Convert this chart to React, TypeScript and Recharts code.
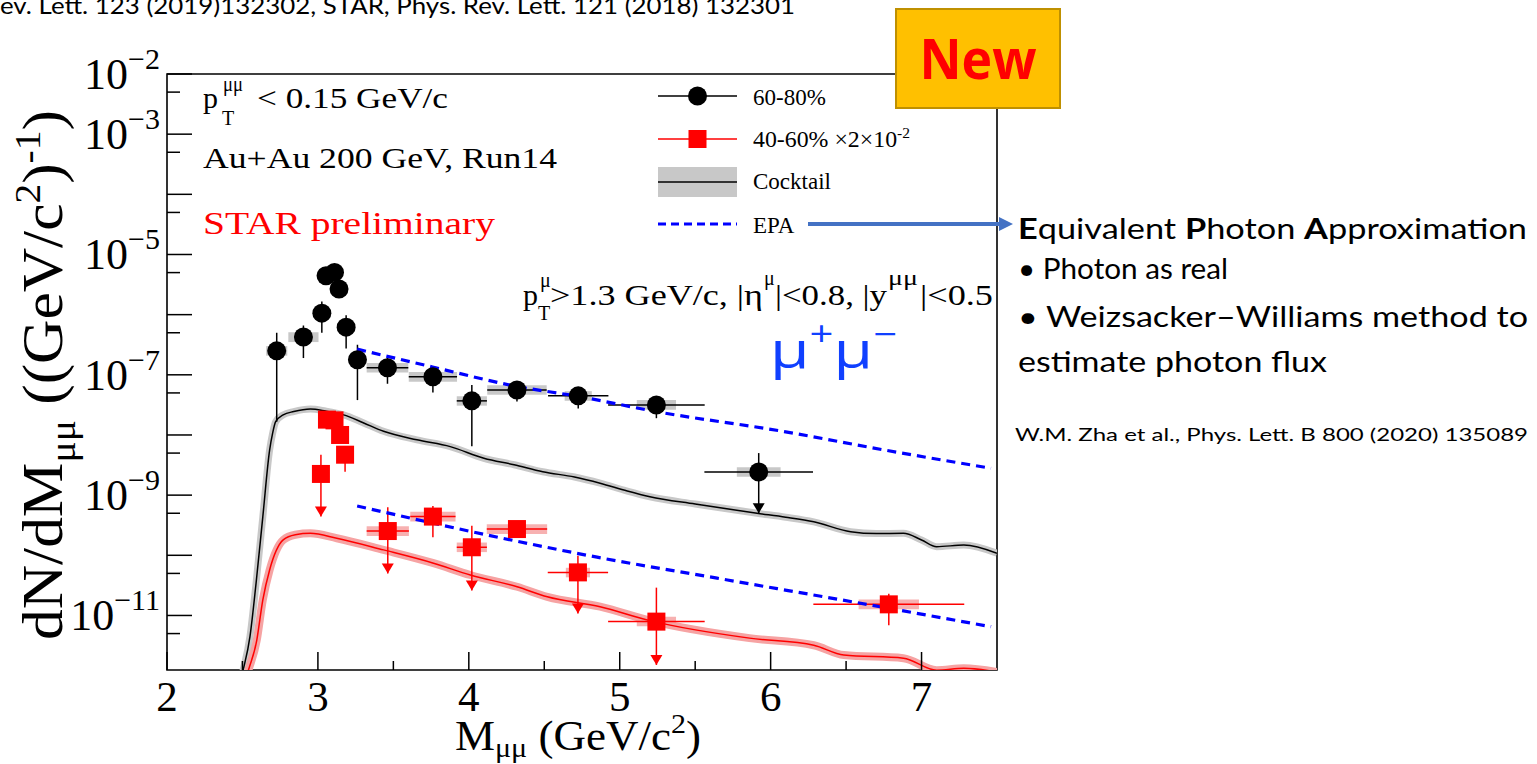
import React from "react";
import {
  ComposedChart,
  XAxis,
  YAxis,
  Line,
  Scatter,
  ErrorBar,
  ReferenceArea,
} from "recharts";

const W = 1537;
const H = 764;
const SERIF = '"Liberation Serif", "Times New Roman", Times, serif';
const SANS = 'Lato, "Open Sans", "Noto Sans", sans-serif';

const massRange: [number, number] = [2, 7.5];
const yieldRange: [number, number] = [1.24e-12, 1e-2];

const massTicks = [2, 2.5, 3, 3.5, 4, 4.5, 5, 5.5, 6, 6.5, 7];
const yieldTicks = [
  1e-2, 5e-3, 1e-3, 5e-4, 1e-4, 5e-5, 1e-5, 5e-6, 1e-6, 5e-7, 1e-7, 5e-8,
  1e-8, 5e-9, 1e-9, 5e-10, 1e-10, 5e-11, 1e-11, 5e-12,
];
const labelledExponents = [-2, -3, -5, -7, -9, -11];

// 60-80% data: m, y, stat error ends (lo/hi), half bin width dm,
// systematic box (half width sdm, slo/shi)
const cent6080 = [
  { m: 2.727, y: 2.5e-7, lo: 1.66e-8, hi: 5.0e-7, dm: 0, sdm: 0.07, slo: 2.08e-7, shi: 3.0e-7 },
  { m: 2.904, y: 4.24e-7, lo: 1.9e-7, hi: 6.6e-7, dm: 0, sdm: 0.1, slo: 3.5e-7, shi: 5.1e-7 },
  { m: 3.026, y: 1.06e-6, lo: 5.0e-7, hi: 1.66e-6, dm: 0, sdm: 0.04, slo: 8.8e-7, shi: 1.27e-6 },
  { m: 3.054, y: 4.44e-6, lo: 3.9e-6, hi: 5.0e-6, dm: 0, sdm: 0.03, slo: 3.7e-6, shi: 5.3e-6 },
  { m: 3.11, y: 5.04e-6, lo: 4.5e-6, hi: 5.6e-6, dm: 0, sdm: 0.03, slo: 4.2e-6, shi: 6.0e-6 },
  { m: 3.14, y: 2.67e-6, lo: 2.35e-6, hi: 3.0e-6, dm: 0, sdm: 0.03, slo: 2.2e-6, shi: 3.2e-6 },
  { m: 3.187, y: 6.2e-7, lo: 2.75e-7, hi: 9.8e-7, dm: 0, sdm: 0.04, slo: 5.2e-7, shi: 7.4e-7 },
  { m: 3.262, y: 1.78e-7, lo: 3.8e-8, hi: 3.16e-7, dm: 0, sdm: 0.05, slo: 1.48e-7, shi: 2.13e-7 },
  { m: 3.461, y: 1.31e-7, lo: 7.1e-8, hi: 1.9e-7, dm: 0.138, sdm: 0.138, slo: 1.09e-7, shi: 1.57e-7 },
  { m: 3.762, y: 9.3e-8, lo: 5.1e-8, hi: 1.38e-7, dm: 0.16, sdm: 0.16, slo: 7.7e-8, shi: 1.11e-7 },
  { m: 4.02, y: 3.69e-8, lo: 6.5e-9, hi: 6.8e-8, dm: 0.1, sdm: 0.1, slo: 3.07e-8, shi: 4.4e-8 },
  { m: 4.319, y: 5.6e-8, lo: 3.6e-8, hi: 7.2e-8, dm: 0.197, sdm: 0.197, slo: 4.66e-8, shi: 6.7e-8 },
  { m: 4.725, y: 4.47e-8, lo: 2.75e-8, hi: 5.6e-8, dm: 0.2, sdm: 0.09, slo: 3.7e-8, shi: 5.35e-8 },
  { m: 5.243, y: 3.16e-8, lo: 1.9e-8, hi: 4.2e-8, dm: 0.32, sdm: 0.13, slo: 2.63e-8, shi: 3.8e-8 },
  { m: 5.921, y: 2.43e-9, lo: 5.0e-10, hi: 5.0e-9, dm: 0.36, sdm: 0.145, slo: 2.02e-9, shi: 2.9e-9, limit: true },
];

// 40-60% data, scaled by 2x10^-2
const cent4060 = [
  { m: 3.02, y: 2.25e-9, lo: 4.4e-10, hi: 4.7e-9, dm: 0, sdm: 0.03, slo: 1.87e-9, shi: 2.7e-9, limit: true },
  { m: 3.06, y: 1.8e-8, lo: 1.6e-8, hi: 2.0e-8, dm: 0, sdm: 0.03, slo: 1.5e-8, shi: 2.16e-8 },
  { m: 3.11, y: 1.75e-8, lo: 1.55e-8, hi: 1.95e-8, dm: 0, sdm: 0.03, slo: 1.46e-8, shi: 2.1e-8 },
  { m: 3.147, y: 1.0e-8, lo: 8.8e-9, hi: 1.13e-8, dm: 0, sdm: 0.03, slo: 8.3e-9, shi: 1.2e-8 },
  { m: 3.18, y: 4.7e-9, lo: 2.45e-9, hi: 5.5e-9, dm: 0, sdm: 0.03, slo: 3.9e-9, shi: 5.6e-9 },
  { m: 3.463, y: 2.53e-10, lo: 5.0e-11, hi: 6.3e-10, dm: 0.14, sdm: 0.14, slo: 2.1e-10, shi: 3.05e-10, limit: true },
  { m: 3.762, y: 4.4e-10, lo: 2.0e-10, hi: 6.6e-10, dm: 0.15, sdm: 0.15, slo: 3.66e-10, shi: 5.3e-10 },
  { m: 4.02, y: 1.36e-10, lo: 2.6e-11, hi: 3.1e-10, dm: 0.1, sdm: 0.1, slo: 1.13e-10, shi: 1.63e-10, limit: true },
  { m: 4.319, y: 2.73e-10, lo: 2.4e-10, hi: 3.1e-10, dm: 0.2, sdm: 0.2, slo: 2.27e-10, shi: 3.28e-10 },
  { m: 4.723, y: 5.2e-11, lo: 1.08e-11, hi: 9.8e-11, dm: 0.2, sdm: 0.08, slo: 4.3e-11, shi: 6.2e-11, limit: true },
  { m: 5.243, y: 7.9e-12, lo: 1.5e-12, hi: 2.9e-11, dm: 0.32, sdm: 0.13, slo: 6.6e-12, shi: 9.5e-12, limit: true },
  { m: 6.783, y: 1.53e-11, lo: 6.9e-12, hi: 2.3e-11, dm: 0.5, sdm: 0.2, slo: 1.27e-11, shi: 1.84e-11 },
];

// hadronic cocktail, 60-80%
const cocktail6080 = [
  { m: 2.4, v: 1e-13 }, { m: 2.5, v: 1.1e-12 }, { m: 2.55, v: 4.5e-12 }, { m: 2.59, v: 3.4e-11 },
  { m: 2.635, v: 4.4e-10 }, { m: 2.68, v: 5.6e-9 }, { m: 2.7, v: 1.07e-8 }, { m: 2.72, v: 1.66e-8 },
  { m: 2.77, v: 2.16e-8 }, { m: 2.84, v: 2.45e-8 }, { m: 2.95, v: 2.7e-8 }, { m: 3.05, v: 2.5e-8 },
  { m: 3.17, v: 2.16e-8 }, { m: 3.3, v: 1.6e-8 }, { m: 3.435, v: 1.15e-8 }, { m: 3.656, v: 8.3e-9 },
  { m: 3.877, v: 6.4e-9 }, { m: 4.1, v: 4.1e-9 }, { m: 4.3, v: 3.2e-9 }, { m: 4.49, v: 2.45e-9 },
  { m: 4.7, v: 2.0e-9 }, { m: 4.87, v: 1.58e-9 }, { m: 5.05, v: 1.17e-9 }, { m: 5.2, v: 9.4e-10 },
  { m: 5.5, v: 7.1e-10 }, { m: 5.91, v: 5.0e-10 }, { m: 6.1, v: 4.3e-10 }, { m: 6.286, v: 3.6e-10 },
  { m: 6.53, v: 2.47e-10 }, { m: 6.7, v: 2.3e-10 }, { m: 6.88, v: 2.32e-10 }, { m: 7.0, v: 1.8e-10 },
  { m: 7.1, v: 1.39e-10 }, { m: 7.28, v: 1.48e-10 }, { m: 7.5, v: 1.08e-10 },
];

// hadronic cocktail, 40-60% (x2x10^-2)
const cocktail4060 = [
  { m: 2.45, v: 1e-13 }, { m: 2.53, v: 1.0e-12 }, { m: 2.595, v: 3.9e-12 }, { m: 2.635, v: 1.82e-11 },
  { m: 2.68, v: 5.7e-11 }, { m: 2.77, v: 1.8e-10 }, { m: 2.85, v: 2.2e-10 }, { m: 2.95, v: 2.32e-10 },
  { m: 3.125, v: 1.92e-10 }, { m: 3.435, v: 1.23e-10 }, { m: 3.766, v: 7.4e-11 }, { m: 4.01, v: 4.7e-11 },
  { m: 4.32, v: 3.0e-11 }, { m: 4.52, v: 2.04e-11 }, { m: 4.87, v: 1.4e-11 }, { m: 5.2, v: 8.2e-12 },
  { m: 5.86, v: 4.2e-12 }, { m: 6.286, v: 3.2e-12 }, { m: 6.485, v: 2.2e-12 }, { m: 6.88, v: 1.95e-12 },
  { m: 7.1, v: 1.23e-12 }, { m: 7.28, v: 1.32e-12 }, { m: 7.5, v: 1.15e-12 },
];

// EPA calculation for both centralities
const epa6080 = [
  { m: 3.26, v: 2.67e-7 }, { m: 3.76, v: 1.35e-7 }, { m: 4.32, v: 6.4e-8 }, { m: 4.72, v: 4.4e-8 },
  { m: 5.24, v: 2.45e-8 }, { m: 6.09, v: 1.14e-8 }, { m: 6.75, v: 5.65e-9 }, { m: 7.46, v: 2.8e-9 },
];
const epa4060 = [
  { m: 3.26, v: 6.6e-10 }, { m: 4.0, v: 2.53e-10 }, { m: 4.54, v: 1.32e-10 }, { m: 4.85, v: 9.3e-11 },
  { m: 5.645, v: 4.17e-11 }, { m: 6.78, v: 1.32e-11 }, { m: 7.46, v: 6.5e-12 },
];

type Pt = (typeof cent6080)[number] & { limit?: boolean };

const withErrors = (pts: Pt[]) =>
  pts.map((p) => ({ ...p, ey: [p.y - p.lo, p.hi - p.y], ex: p.dm }));

const arrowTips = (pts: Pt[]) =>
  pts.filter((p) => p.limit).map((p) => ({ m: p.m, y: p.lo }));

const BLUE = "#0000ff";
const GREY = "#c8c8c8";
const PINK = "#f6a3a3";

function YTick(props: any) {
  const { x, y, payload } = props;
  const lg = Math.log10(payload.value);
  const exp = Math.round(lg);
  const major = Math.abs(lg - exp) < 1e-6;
  const len = major ? 25 : 13;
  return (
    <g>
      <line x1={x} x2={x + len} y1={y} y2={y} stroke="#000" strokeWidth={1.5} />
      {major && labelledExponents.includes(exp) && (
        <text
          x={x - 7}
          y={y + 15}
          textAnchor="end"
          fontFamily={SERIF}
          fontSize={44}
          fill="#000"
        >
          10
          <tspan dy={-20} fontSize={30}>
            {`\u2212${-exp}`}
          </tspan>
        </text>
      )}
    </g>
  );
}

function XTick(props: any) {
  const { x, y, payload } = props;
  const v = payload.value;
  const major = Number.isInteger(v);
  return (
    <g>
      <line x1={x} x2={x} y1={y} y2={y - (major ? 18 : 9)} stroke="#000" strokeWidth={1.5} />
      {major && (
        <text x={x} y={y + 41} textAnchor="middle" fontFamily={SERIF} fontSize={43} fill="#000">
          {v}
        </text>
      )}
    </g>
  );
}

const blackDot = (p: any) => <circle cx={p.cx} cy={p.cy} r={9.5} fill="#000" />;
const redSquare = (p: any) => (
  <rect x={p.cx - 9} y={p.cy - 9} width={18} height={18} fill="#ff0000" />
);
const downArrow = (color: string) => (p: any) => (
  <path d={`M${p.cx},${p.cy} L${p.cx - 6},${p.cy - 10} L${p.cx + 6},${p.cy - 10} Z`} fill={color} />
);

export default function App() {
  const d6080 = withErrors(cent6080);
  const d4060 = withErrors(cent4060 as Pt[]);

  return (
    <div style={{ position: "absolute", left: 0, top: 0, width: W, height: H, background: "#fff" }}>
      <ComposedChart
        width={W}
        height={H}
        margin={{ top: 74, right: 540, bottom: 34, left: 67 }}
      >
        <XAxis
          type="number"
          dataKey="m"
          domain={massRange}
          allowDataOverflow
          ticks={massTicks}
          interval={0}
          tick={<XTick />}
          tickLine={false}
          tickSize={0}
          tickMargin={0}
          height={60}
          axisLine={false}
        />
        <YAxis
          type="number"
          scale="log"
          domain={yieldRange}
          allowDataOverflow
          ticks={yieldTicks}
          interval={0}
          tick={<YTick />}
          tickLine={false}
          tickSize={0}
          tickMargin={0}
          width={100}
          axisLine={false}
        />

        {/* systematic uncertainty boxes */}
        {cent6080.map((p, i) => (
          <ReferenceArea
            key={`s6080-${i}`}
            x1={p.m - p.sdm}
            x2={p.m + p.sdm}
            y1={p.slo}
            y2={p.shi}
            fill={GREY}
            fillOpacity={1}
            stroke="none"
          />
        ))}
        {cent4060.map((p, i) => (
          <ReferenceArea
            key={`s4060-${i}`}
            x1={p.m - p.sdm}
            x2={p.m + p.sdm}
            y1={p.slo}
            y2={p.shi}
            fill={PINK}
            fillOpacity={0.85}
            stroke="none"
          />
        ))}

        {/* cocktail bands and central lines */}
        <Line data={cocktail6080} dataKey="v" type="monotone" stroke={GREY} strokeWidth={7} dot={false} isAnimationActive={false} />
        <Line data={cocktail6080} dataKey="v" type="monotone" stroke="#000" strokeWidth={1.5} dot={false} isAnimationActive={false} />
        <Line data={cocktail4060} dataKey="v" type="monotone" stroke={PINK} strokeWidth={8} dot={false} isAnimationActive={false} />
        <Line data={cocktail4060} dataKey="v" type="monotone" stroke="#ff0000" strokeWidth={1.5} dot={false} isAnimationActive={false} />

        {/* measured points */}
        <Scatter data={d6080} dataKey="y" shape={blackDot} isAnimationActive={false}>
          <ErrorBar dataKey="ey" direction="y" width={0} stroke="#000" strokeWidth={1.5} isAnimationActive={false} />
          <ErrorBar dataKey="ex" direction="x" width={0} stroke="#000" strokeWidth={1.5} isAnimationActive={false} />
        </Scatter>
        <Scatter data={arrowTips(cent6080)} dataKey="y" shape={downArrow("#000")} isAnimationActive={false} />
        <Scatter data={d4060} dataKey="y" shape={redSquare} isAnimationActive={false}>
          <ErrorBar dataKey="ey" direction="y" width={0} stroke="#ff0000" strokeWidth={1.5} isAnimationActive={false} />
          <ErrorBar dataKey="ex" direction="x" width={0} stroke="#ff0000" strokeWidth={1.5} isAnimationActive={false} />
        </Scatter>
        <Scatter data={arrowTips(cent4060 as Pt[])} dataKey="y" shape={downArrow("#ff0000")} isAnimationActive={false} />

        {/* EPA */}
        <Line data={epa6080} dataKey="v" type="monotone" stroke={BLUE} strokeWidth={3.2} strokeDasharray="9 6" dot={false} isAnimationActive={false} />
        <Line data={epa4060} dataKey="v" type="monotone" stroke={BLUE} strokeWidth={3.2} strokeDasharray="9 6" dot={false} isAnimationActive={false} />

        {/* plot frame */}
        <ReferenceArea
          x1={massRange[0]}
          x2={massRange[1]}
          y1={yieldRange[0]}
          y2={yieldRange[1]}
          fill="none"
          stroke="#000"
          strokeWidth={1.6}
          ifOverflow="visible"
        />
      </ComposedChart>

      <svg
        width={W}
        height={H}
        style={{ position: "absolute", left: 0, top: 0, pointerEvents: "none" }}
      >
        {/* citation line at the top */}
        <text x={0} y={14} fontFamily={SANS} fontSize={24} textLength={795} lengthAdjust="spacingAndGlyphs" fill="#000">
          ev. Lett. 123 (2019)132302, STAR, Phys. Rev. Lett. 121 (2018) 132301
        </text>

        {/* axis titles */}
        <text
          transform="translate(62,640) rotate(-90)"
          fontFamily={SERIF}
          fontSize={56}
          textLength={530}
          lengthAdjust="spacingAndGlyphs"
          fill="#000"
        >
          dN/dM
          <tspan dy={13} fontSize={36}>μμ</tspan>
          <tspan dy={-13}>{" ((GeV/c"}</tspan>
          <tspan dy={-22} fontSize={36}>2</tspan>
          <tspan dy={22}>)</tspan>
          <tspan dy={-22} fontSize={36}>-1</tspan>
          <tspan dy={22}>)</tspan>
        </text>
        <text x={455} y={750} fontFamily={SERIF} fontSize={42} textLength={246} lengthAdjust="spacingAndGlyphs" fill="#000">
          M
          <tspan dy={7} fontSize={28}>μμ</tspan>
          <tspan dy={-7}>{" (GeV/c"}</tspan>
          <tspan dy={-17} fontSize={28}>2</tspan>
          <tspan dy={17}>)</tspan>
        </text>

        {/* selection and dataset labels */}
        <g fontFamily={SERIF} fill="#000">
          <text x={203} y={108} fontSize={30}>p</text>
          <text x={222} y={125} fontSize={20}>T</text>
          <text x={223} y={91} fontSize={20} textLength={20} lengthAdjust="spacingAndGlyphs">μμ</text>
          <text x={257} y={108} fontSize={30} textLength={191} lengthAdjust="spacingAndGlyphs">{"< 0.15 GeV/c"}</text>
          <text x={203} y={168} fontSize={30} textLength={354} lengthAdjust="spacingAndGlyphs">Au+Au 200 GeV, Run14</text>
          <text x={203} y={234} fontSize={32} textLength={292} lengthAdjust="spacingAndGlyphs" fill="#ff0000">STAR preliminary</text>

          <text x={523} y={305} fontSize={30}>p</text>
          <text x={538} y={320} fontSize={20}>T</text>
          <text x={540} y={287} fontSize={20}>μ</text>
          <text x={550} y={305} fontSize={30} textLength={213} lengthAdjust="spacingAndGlyphs">{">1.3 GeV/c, |η"}</text>
          <text x={764} y={285} fontSize={20}>μ</text>
          <text x={775} y={305} fontSize={30} textLength={112} lengthAdjust="spacingAndGlyphs">{"|<0.8, |y"}</text>
          <text x={888} y={285} fontSize={20} textLength={30} lengthAdjust="spacingAndGlyphs">μμ</text>
          <text x={920} y={305} fontSize={30} textLength={73} lengthAdjust="spacingAndGlyphs">{"|<0.5"}</text>
        </g>

        <text x={770} y={368} fontFamily='"Open Sans", sans-serif' fontSize={52} textLength={127} lengthAdjust="spacingAndGlyphs" fill="#1040ff">
          μ<tspan dy={-22} fontSize={34}>+</tspan>
          <tspan dy={22}>μ</tspan>
          <tspan dy={-22} fontSize={34}>−</tspan>
        </text>

        {/* legend */}
        <g fontFamily={SERIF} fontSize={23} fill="#000">
          <line x1={658} x2={737} y1={96} y2={96} stroke="#000" strokeWidth={1.5} />
          <circle cx={697.5} cy={96} r={9.5} fill="#000" />
          <text x={753} y={105}>60-80%</text>

          <line x1={658} x2={737} y1={139} y2={139} stroke="#ff0000" strokeWidth={1.5} />
          <rect x={688.5} y={130} width={18} height={18} fill="#ff0000" />
          <text x={753} y={147} textLength={157} lengthAdjust="spacingAndGlyphs">
            {"40-60% \u00d72\u00d710"}
            <tspan dy={-9} fontSize={15}>-2</tspan>
          </text>

          <rect x={658} y={167} width={79} height={30} fill={GREY} />
          <line x1={658} x2={737} y1={182} y2={182} stroke="#000" strokeWidth={1.5} />
          <text x={753} y={189}>Cocktail</text>

          <line x1={658} x2={737} y1={224} y2={224} stroke={BLUE} strokeWidth={3} strokeDasharray="8 5" />
          <text x={753} y={233}>EPA</text>
        </g>

        {/* pointer from the EPA entry to the note */}
        <line x1={808} x2={1001} y1={224} y2={224} stroke="#4472c4" strokeWidth={4} />
        <path d="M999,217 L1013,224 L999,231 Z" fill="#4472c4" />

        {/* "New" badge */}
        <rect x={896} y={9} width={164} height={99} fill="#ffc000" stroke="#bf9000" strokeWidth={2} />
        <text x={978} y={79} textAnchor="middle" fontFamily='"Open Sans", sans-serif' fontWeight={700} fontSize={56} textLength={117} lengthAdjust="spacingAndGlyphs" fill="#ff0000">
          New
        </text>

        {/* EPA note */}
        <g fontFamily={SANS} fill="#000">
          <text x={1018} y={239} fontSize={28} textLength={509} lengthAdjust="spacingAndGlyphs">
            <tspan fontWeight={700}>E</tspan>quivalent <tspan fontWeight={700}>P</tspan>hoton{" "}
            <tspan fontWeight={700}>A</tspan>pproximation
          </text>
          <text x={1018} y={279} fontSize={28} textLength={210} lengthAdjust="spacingAndGlyphs">
            • Photon as real
          </text>
          <text x={1018} y={327} fontSize={28} textLength={510} lengthAdjust="spacingAndGlyphs">
            • Weizsacker–Williams method to
          </text>
          <text x={1018} y={372} fontSize={28} textLength={309} lengthAdjust="spacingAndGlyphs">
            estimate photon flux
          </text>
          <text x={1015} y={441} fontSize={17} textLength={513} lengthAdjust="spacingAndGlyphs">
            W.M. Zha et al., Phys. Lett. B 800 (2020) 135089
          </text>
        </g>
      </svg>
    </div>
  );
}
